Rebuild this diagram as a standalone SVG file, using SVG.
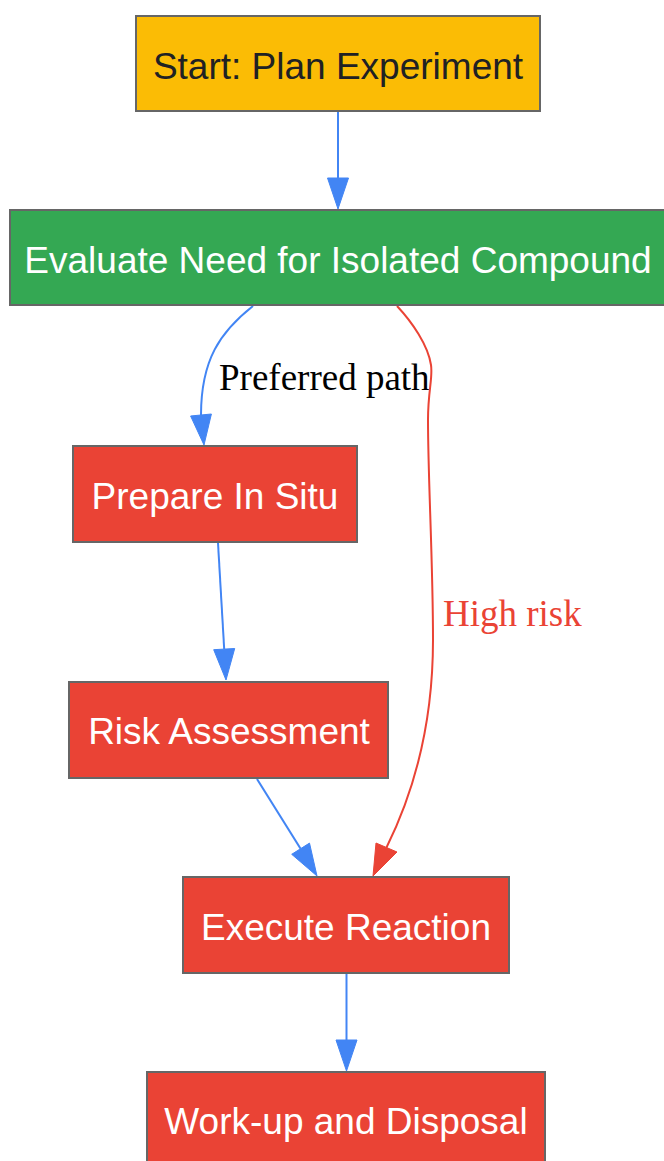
<svg xmlns="http://www.w3.org/2000/svg" width="664" height="1161" viewBox="0 0 664 1161">
<style>
.box{stroke:#666666;stroke-width:2}
.yellow{fill:#FBBC05}
.green{fill:#34A853}
.red{fill:#EA4335}
.lbl{font-family:"Liberation Sans",Arial,sans-serif;font-size:37px;text-anchor:middle}
.dark{fill:#202124}
.light{fill:#ffffff}
.edge{fill:none;stroke-width:2}
.blue{stroke:#4285F4}
.redE{stroke:#EA4335}
.hb{fill:#4285F4;stroke:#4285F4;stroke-width:1}
.hr{fill:#EA4335;stroke:#EA4335;stroke-width:1}
.elbl{font-family:"Liberation Serif","Times New Roman",serif;font-size:37px}
</style>
<rect width="664" height="1161" fill="#ffffff"/>
<g id="edges">
  <path class="edge blue" d="M338,112 L338,178"/>
  <polygon class="hb" points="327.5,178 348.5,178 338,209"/>
  <path class="edge blue" d="M253,306 C220,332 201,360 201,415"/>
  <polygon class="hb" points="190.6,416 211.4,414 204,445"/>
  <text class="elbl" x="219" y="390" fill="#000000">Preferred path</text>
  <path class="edge blue" d="M218,543 L224.2,649"/>
  <polygon class="hb" points="213.7,649.7 234.7,648.5 226,680"/>
  <path class="edge redE" d="M397,306 C412,322 428,345 431,365 C433,378 428,390 428,420 C428,480 433,560 433,640 C433,720 415,790 386.5,847.5"/>
  <polygon class="hr" points="376,843 397,852 373,876"/>
  <text class="elbl" x="443" y="626" fill="#EA4335">High risk</text>
  <path class="edge blue" d="M257,779 L300.6,848.7"/>
  <polygon class="hb" points="309.5,843.1 291.7,854.3 317,876"/>
  <path class="edge blue" d="M346.5,973 L346.5,1040"/>
  <polygon class="hb" points="336,1040 357,1040 346.5,1071"/>
</g>
<g id="start">
  <rect class="box yellow" x="136" y="16" width="404" height="95"/>
  <text class="lbl dark" x="338" y="79">Start: Plan Experiment</text>
</g>
<g id="evaluate">
  <rect class="box green" x="10" y="210" width="656" height="95"/>
  <text class="lbl light" x="338" y="273">Evaluate Need for Isolated Compound</text>
</g>
<g id="prepare">
  <rect class="box red" x="73" y="446" width="284" height="96"/>
  <text class="lbl light" x="215" y="509">Prepare In Situ</text>
</g>
<g id="risk">
  <rect class="box red" x="69" y="682" width="319" height="96"/>
  <text class="lbl light" x="229" y="744">Risk Assessment</text>
</g>
<g id="execute">
  <rect class="box red" x="183" y="877" width="326" height="96"/>
  <text class="lbl light" x="346" y="940">Execute Reaction</text>
</g>
<g id="workup">
  <rect class="box red" x="147" y="1072" width="398" height="96"/>
  <text class="lbl light" x="346" y="1134">Work-up and Disposal</text>
</g>
</svg>
